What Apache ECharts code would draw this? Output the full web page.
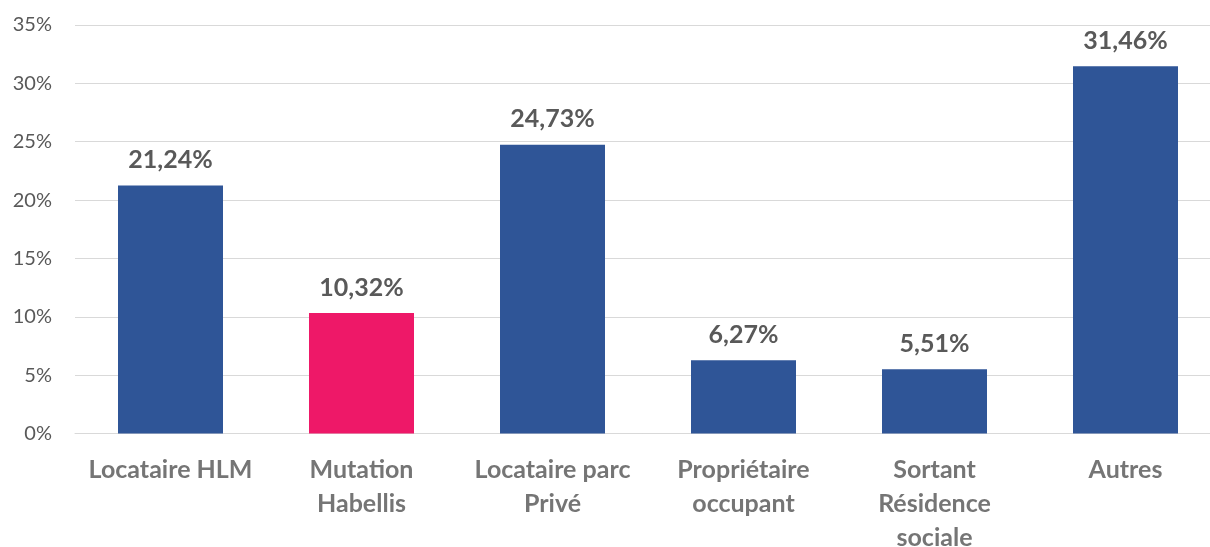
<!DOCTYPE html>
<html>
<head>
<meta charset="utf-8">
<script src="https://cdn.jsdelivr.net/npm/echarts@6/dist/echarts.min.js"></script>
<style>html,body{margin:0;padding:0;background:#fff;}#c{width:1210px;height:547px;}</style>
</head>
<body>
<div id="c"></div>
<script>
const categories = ["Locataire HLM", "Mutation\nHabellis", "Locataire parc\nPrivé", "Propriétaire\noccupant", "Sortant\nRésidence\nsociale", "Autres"];
const values = [21.24, 10.32, 24.73, 6.27, 5.51, 31.46];
const barColors = ["#2F5597", "#EE1868", "#2F5597", "#2F5597", "#2F5597", "#2F5597"];
const yTicks = [0, 5, 10, 15, 20, 25, 30, 35];

const chart = echarts.init(document.getElementById('c'));
const font = "Lato, 'Open Sans', sans-serif";
chart.setOption({
  animation: false,
  grid: { left: 75, top: 25, width: 1146, bottom: 113.5, containLabel: false, outerBoundsMode: 'none' },
  xAxis: {
    type: 'category',
    data: categories,
    axisLine: { show: true, lineStyle: { color: '#D9D9D9', width: 1 } },
    axisTick: { show: false },
    axisLabel: {
      interval: 0, margin: 19, color: '#757575', fontFamily: font, fontWeight: 'bold',
      fontSize: 25, lineHeight: 34
    }
  },
  yAxis: {
    type: 'value', min: 0, max: 35, interval: 5,
    axisLine: { show: false }, axisTick: { show: false },
    splitLine: { lineStyle: { color: '#D9D9D9', width: 1 } },
    axisLabel: { margin: 23, color: '#595959', fontFamily: font, fontSize: 20,
      formatter: v => yTicks.includes(v) ? v + '%' : '' }
  },
  series: [{
    type: 'bar',
    barWidth: 105,
    data: values.map((v, i) => ({ value: v, itemStyle: { color: barColors[i] } })),
    label: {
      show: true, position: 'top', distance: 13,
      color: '#595959', fontFamily: font, fontWeight: 'bold', fontSize: 25,
      formatter: p => p.value.toFixed(2).replace('.', ',') + '%'
    }
  }]
});
</script>
</body>
</html>
